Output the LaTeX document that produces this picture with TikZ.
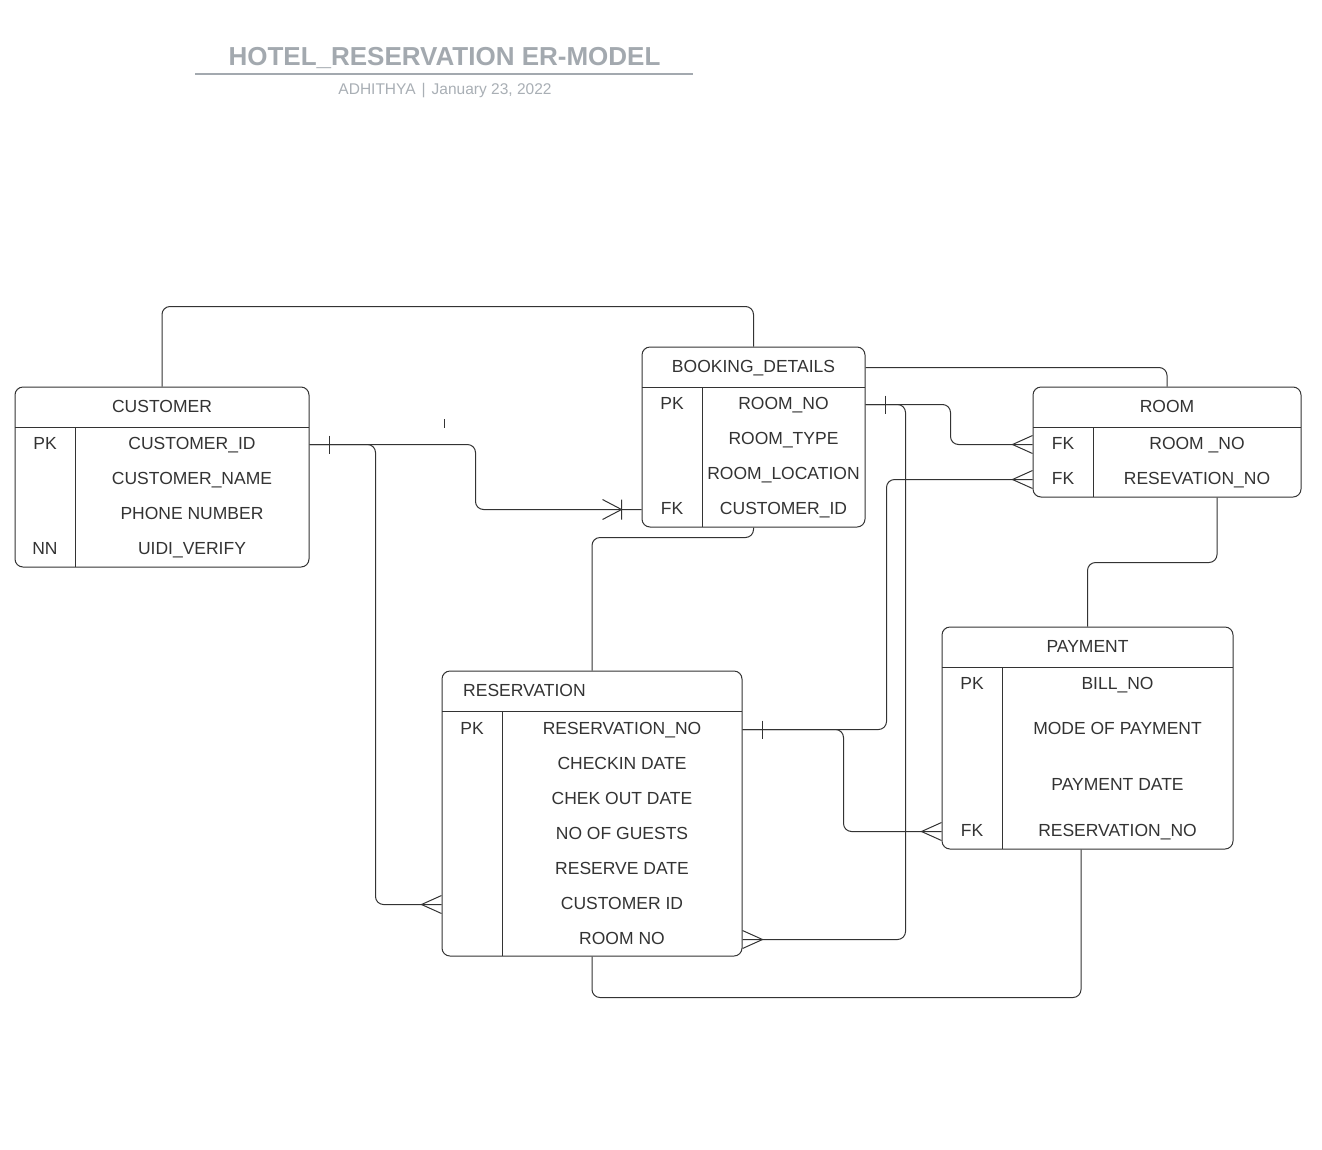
\documentclass[tikz,border=0pt]{standalone}
\usepackage{fontspec}
\setmainfont{Liberation Sans}
\definecolor{inkgray}{HTML}{333333}
\definecolor{titlegray}{HTML}{A3A9AF}
\definecolor{subgray}{HTML}{A9AFB5}
\tikzset{
  entity/.style={draw=inkgray, line width=1pt, rounded corners=8pt, inner sep=0pt},
  attr/.style={text=inkgray, font=\fontsize{17.5}{21}\selectfont, inner sep=0pt,
    text height=12.6pt, text depth=3pt, yshift=-1.5pt},
  conn/.style={draw=inkgray, line width=1pt, rounded corners=8pt},
  crow/.pic={\draw[inkgray, line width=1pt] (0,-9) -- (-20,0) -- (0,9);},
  onebar/.pic={\draw[inkgray, line width=1pt] (20,-9) -- (20,9);},
  crowbar/.pic={\draw[inkgray, line width=1pt] (-39,-10) -- (-20,0) -- (-39,10)
    (-20,-10) -- (-20,10);}
}
\begin{document}
\begin{tikzpicture}[x=1pt,y=-1pt]
  \fill[white] (0,0) rectangle (1322,1149);
  \useasboundingbox (0,0) rectangle (1322,1149);

  % title
  \node[font=\bfseries\fontsize{26}{30}\selectfont, text=titlegray, inner sep=0pt,
    text height=18.6pt, text depth=0pt] (title) at (444.5,56) {HOTEL\_RESERVATION ER-MODEL};
  \draw[titlegray, line width=1.5pt] (195,74) -- (693,74);
  \node[font=\fontsize{15.5}{18}\selectfont, text=subgray, inner sep=0pt,
    text height=11pt, text depth=0pt] (subtitle) at (445,89)
    {ADHITHYA\hspace{6pt}|\hspace{6pt}January 23, 2022};

  % customer
  \node[entity, minimum width=294pt, minimum height=180pt] (customer) at (162,477) {};
  \draw[inkgray, line width=1pt] (15,427) -- (309,427) (75,427) -- (75,567);
  \node[attr] (cust-title) at (162,406) {CUSTOMER};
  \foreach \y/\k/\t [count=\i] in {443/PK/CUSTOMER\_ID, 478//CUSTOMER\_NAME,
      513//PHONE NUMBER, 548/NN/UIDI\_VERIFY}
    \node[attr] (cust-\i) at (192,\y) {\t} (45,\y) node[attr] {\k};

  % booking details
  \node[entity, minimum width=223pt, minimum height=180pt] (booking) at (753.5,437) {};
  \draw[inkgray, line width=1pt] (642,387) -- (865,387) (702,387) -- (702,527);
  \node[attr] (book-title) at (753.5,366) {BOOKING\_DETAILS};
  \foreach \y/\k/\t [count=\i] in {403/PK/ROOM\_NO, 438//ROOM\_TYPE,
      473//ROOM\_LOCATION, 508/FK/CUSTOMER\_ID}
    \node[attr] (book-\i) at (783.5,\y) {\t} (672,\y) node[attr] {\k};

  % room
  \node[entity, minimum width=268pt, minimum height=110pt] (room) at (1167,442) {};
  \draw[inkgray, line width=1pt] (1033,427) -- (1301,427) (1093,427) -- (1093,497);
  \node[attr] (room-title) at (1167,406) {ROOM};
  \foreach \y/\k/\t [count=\i] in {443/FK/ROOM \_NO, 478/FK/RESEVATION\_NO}
    \node[attr] (room-\i) at (1197,\y) {\t} (1063,\y) node[attr] {\k};

  % payment
  \node[entity, minimum width=291pt, minimum height=222pt] (payment) at (1087.5,738) {};
  \draw[inkgray, line width=1pt] (942,667) -- (1233,667) (1002,667) -- (1002,849);
  \node[attr] (pay-title) at (1087.5,646) {PAYMENT};
  \foreach \y/\k/\t [count=\i] in {683/PK/BILL\_NO, 728//MODE OF PAYMENT,
      784//PAYMENT DATE, 830/FK/RESERVATION\_NO}
    \node[attr] (pay-\i) at (1117.5,\y) {\t} (972,\y) node[attr] {\k};

  % reservation
  \node[entity, minimum width=300pt, minimum height=285pt] (reservation) at (592,813.5) {};
  \draw[inkgray, line width=1pt] (442,711) -- (742,711) (502,711) -- (502,956);
  \node[attr, anchor=west] (res-title) at (463,690) {RESERVATION};
  \foreach \y/\k/\t [count=\i] in {728/PK/RESERVATION\_NO, 763//CHECKIN DATE,
      798//CHEK OUT DATE, 833//NO OF GUESTS, 868//RESERVE DATE,
      903//CUSTOMER ID, 938//ROOM NO}
    \node[attr] (res-\i) at (622,\y) {\t} (472,\y) node[attr] {\k};

  % relations
  \draw[conn] (customer.north) |- ([yshift=40pt]booking.north) -- (booking.north);
  \draw[conn] (customer.east |- cust-1) -- ++(166,0) |- (booking.west |- book-4);
  \draw[conn] (customer.east |- cust-1) -- ++(66,0) |- (reservation.west |- res-6);
  \draw[conn] (booking.south) -- ++(0,10) -| (reservation.north);
  \draw[conn] (booking.east |- book-title) -| (room.north);
  \draw[conn] (booking.east |- book-1) -- ++(85,0) |- (room.west |- room-1);
  \draw[conn] (booking.east |- book-1) -- ++(40,0) |- (reservation.east |- res-7);
  \draw[conn] (room.west |- room-2) -- ++(-146,0) |- (reservation.east |- res-1);
  \draw[conn] (reservation.east |- res-1) -- ++(101,0) |- (payment.west |- pay-4);
  \draw[conn] ([xshift=50pt]room.south) -- ++(0,65) -| (payment.north);
  \draw[conn] ([xshift=-6.5pt]payment.south) -- ++(0,148) -| (reservation.south);
  \draw[inkgray, line width=0.8pt] (444,419) -- (444,428);

  % ends
  \path (customer.east |- cust-1) pic {onebar}
    (booking.west |- book-4) pic {crowbar}
    (reservation.west |- res-6) pic {crow}
    (booking.east |- book-1) pic {onebar}
    (room.west |- room-1) pic {crow}
    (room.west |- room-2) pic {crow}
    (reservation.east |- res-7) pic[rotate=180] {crow}
    (reservation.east |- res-1) pic {onebar}
    (payment.west |- pay-4) pic {crow};

\end{tikzpicture}
\end{document}
